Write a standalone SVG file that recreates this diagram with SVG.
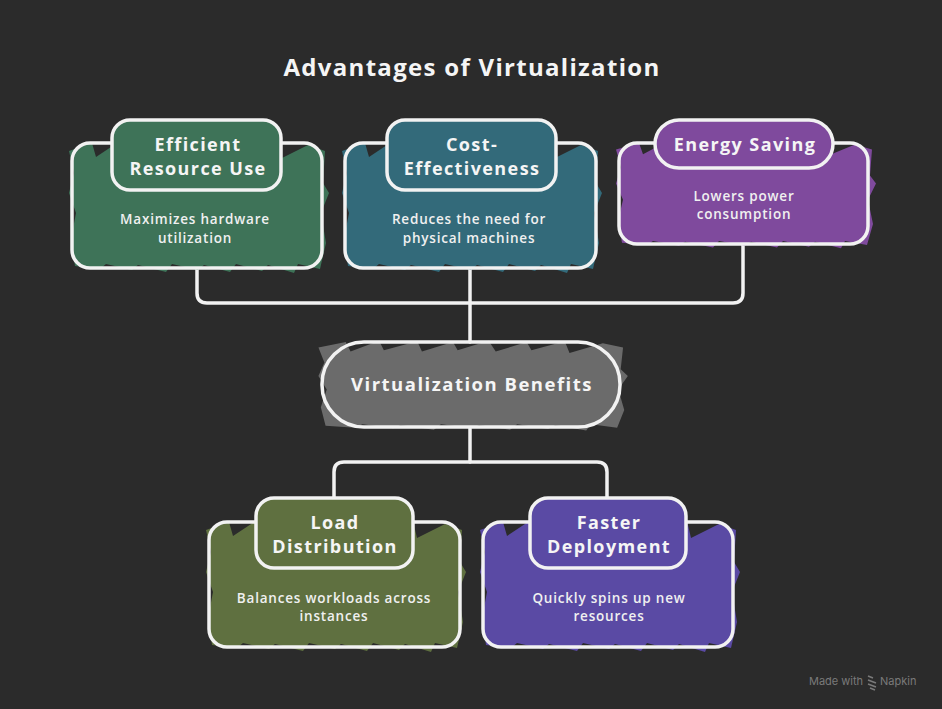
<svg xmlns="http://www.w3.org/2000/svg" width="942" height="709" viewBox="0 0 942 709">
<style>
.bd{fill:none;stroke:#f2f2f2;stroke-width:3.5}
.cn{fill:none;stroke:#f2f2f2;stroke-width:3.5;stroke-linejoin:round;stroke-linecap:round}
.tt{font-family:"Open Sans","DejaVu Sans",sans-serif;font-weight:700;font-size:18px;letter-spacing:1.4px;fill:#f5f5f5;text-anchor:middle}
.bt{font-family:"Open Sans","DejaVu Sans",sans-serif;font-weight:600;font-size:13.5px;letter-spacing:0.8px;fill:#f0f0f0;text-anchor:middle}
</style>
<defs>
<path id="scrib" d="M-3,8 L20,0 L24,14 L48,-2 L52,12 L80,-1 L84,14 L110,0 L114,12 L140,-2 L146,14 L172,0 L176,12 L204,-1 L208,16 L236,2 L253,8 L251,40 L257,50 L249,70 L254,100 L248,126 L226,121 L222,130 L196,122 L190,128 L164,121 L158,129 L132,122 L126,127 L100,121 L94,129 L66,122 L60,127 L34,121 L28,126 L3,123 L-1,96 L4,70 L-3,50 L2,30 Z"/>
</defs>
<rect width="942" height="709" fill="#2b2b2b"/>
<text x="472" y="76" style="font-family:'Open Sans','DejaVu Sans',sans-serif;font-weight:700;font-size:24px;letter-spacing:1.3px;fill:#f5f5f5;text-anchor:middle">Advantages of Virtualization</text>

<g id="connectors">
<path class="cn" d="M197,268 V293 Q197,303 207,303 H733 Q743,303 743,293 V244"/>
<path class="cn" d="M470,268 V342"/>
<path class="cn" d="M470,427 V462"/>
<path class="cn" d="M334,498 V472 Q334,462 344,462 H597 Q607,462 607,472 V498"/>
</g>

<g id="node-efficient">
<use href="#scrib" transform="translate(72,143)" fill="#3e7358"/>
<rect class="bd" x="72" y="143" width="250" height="125" rx="18"/>
<rect x="112" y="120" width="169" height="70" rx="18" fill="#3e7358" stroke="#f2f2f2" stroke-width="3.5"/>
<text class="tt" x="198" y="151">Efficient</text>
<text class="tt" x="198" y="175">Resource Use</text>
<text class="bt" x="195" y="224">Maximizes hardware</text>
<text class="bt" x="195" y="243">utilization</text>
</g>

<g id="node-cost">
<use href="#scrib" transform="translate(345,143)" fill="#336a7a"/>
<rect class="bd" x="345" y="143" width="251" height="125" rx="18"/>
<rect x="387" y="120" width="169" height="70" rx="18" fill="#336a7a" stroke="#f2f2f2" stroke-width="3.5"/>
<text class="tt" x="472" y="151">Cost-</text>
<text class="tt" x="472" y="175">Effectiveness</text>
<text class="bt" x="469" y="224">Reduces the need for</text>
<text class="bt" x="469" y="243">physical machines</text>
</g>

<g id="node-energy">
<use href="#scrib" transform="translate(619,143) scale(1,0.81)" fill="#7f4a9d"/>
<rect class="bd" x="619" y="143" width="249" height="101" rx="18"/>
<rect x="655" y="120" width="178" height="48" rx="24" fill="#7f4a9d" stroke="#f2f2f2" stroke-width="3.5"/>
<text class="tt" x="745" y="151">Energy Saving</text>
<text class="bt" x="744" y="201">Lowers power</text>
<text class="bt" x="744" y="219">consumption</text>
</g>

<g id="node-center">
<use href="#scrib" transform="translate(322,342) scale(1.19,0.68)" fill="#6b6b6b"/>
<rect class="bd" x="322" y="342" width="298" height="85" rx="42"/>
<text class="tt" x="472" y="391" style="font-size:18.5px;letter-spacing:1.5px">Virtualization Benefits</text>
</g>

<g id="node-load">
<use href="#scrib" transform="translate(209,522)" fill="#5f7040"/>
<rect class="bd" x="209" y="522" width="251" height="125" rx="18"/>
<rect x="256" y="498" width="157" height="70" rx="18" fill="#5f7040" stroke="#f2f2f2" stroke-width="3.5"/>
<text class="tt" x="335" y="529">Load</text>
<text class="tt" x="335" y="553">Distribution</text>
<text class="bt" x="334" y="603">Balances workloads across</text>
<text class="bt" x="334" y="621">instances</text>
</g>

<g id="node-faster">
<use href="#scrib" transform="translate(483,522)" fill="#5a4aa4"/>
<rect class="bd" x="483" y="522" width="250" height="125" rx="18"/>
<rect x="530" y="498" width="156" height="70" rx="18" fill="#5a4aa4" stroke="#f2f2f2" stroke-width="3.5"/>
<text class="tt" x="609" y="529">Faster</text>
<text class="tt" x="609" y="553">Deployment</text>
<text class="bt" x="609" y="603">Quickly spins up new</text>
<text class="bt" x="609" y="621">resources</text>
</g>

<g id="watermark">
<text x="809" y="685" style="font-family:'Inter','DejaVu Sans',sans-serif;font-size:11px;fill:#7a7a7a">Made with</text>
<path d="M868,676 l5,2 M868,680 l8,3 M868,684 l8,3 M870,688 l5,2" stroke="#7a7a7a" stroke-width="1.6" fill="none"/>
<text x="880" y="685" style="font-family:'Inter','DejaVu Sans',sans-serif;font-size:11px;fill:#7a7a7a">Napkin</text>
</g>
</svg>
